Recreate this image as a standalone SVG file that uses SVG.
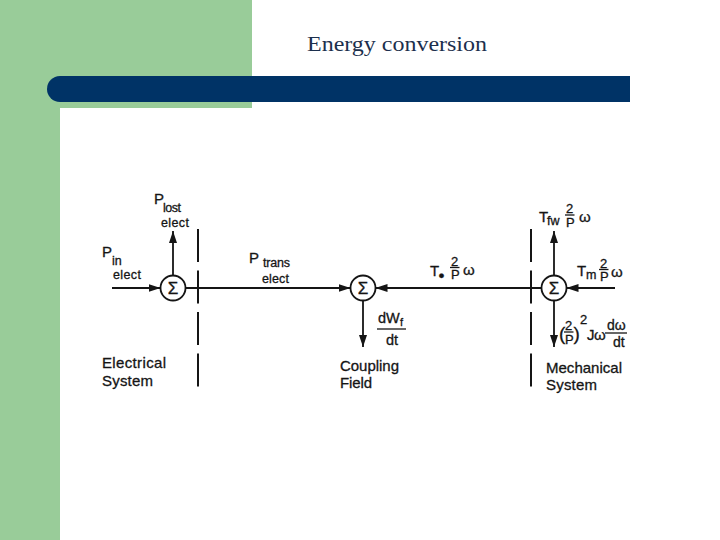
<svg xmlns="http://www.w3.org/2000/svg" width="720" height="540" viewBox="0 0 720 540">
<style>
  text { font-family: "Liberation Sans", Arial, sans-serif; fill: #151515; stroke: #151515; stroke-width: 0.3; }
  .title { font-family: "Liberation Serif", "Times New Roman", serif; font-size: 22px; fill: #1c2f4d; stroke: none; }
  .big { font-size: 15px; }
  .sub { font-size: 12.5px; }
  .frac { font-size: 13px; }
  .lbl { font-size: 15px; }
  .sig { font-size: 17px; text-anchor: middle; }
  .ln { stroke: #151515; stroke-width: 1.8; fill: none; }
  .bar { stroke: #151515; stroke-width: 1.3; }
  .sum { stroke: #151515; stroke-width: 1.8; fill: #ffffff; }
  .dash { stroke: #151515; stroke-width: 2; stroke-dasharray: 33 8.5; }
</style>
<defs>
  <marker id="ah" markerUnits="userSpaceOnUse" markerWidth="12" markerHeight="8" refX="12" refY="4" orient="auto">
    <path d="M0,0 L12,4 L0,8 z" fill="#151515"/>
  </marker>
</defs>
<rect width="720" height="540" fill="#ffffff"/>
<g id="background">
  <rect x="0" y="0" width="252" height="108" fill="#99cc99"/>
  <rect x="0" y="0" width="60" height="540" fill="#99cc99"/>
  <path d="M60,76 H630 V102 H60 A13,13 0 0 1 60,76 Z" fill="#003366"/>
  <text class="title" x="307" y="51" textLength="180" lengthAdjust="spacingAndGlyphs">Energy conversion</text>
</g>
<g id="boundaries">
  <line class="dash" x1="198" y1="229" x2="198" y2="388"/>
  <line class="dash" x1="531" y1="229" x2="531" y2="388"/>
</g>
<g id="connectors">
  <line class="ln" x1="112" y1="288" x2="160.5" y2="288" marker-end="url(#ah)"/>
  <line class="ln" x1="173" y1="275.5" x2="173" y2="231" marker-end="url(#ah)"/>
  <line class="ln" x1="185.5" y1="288" x2="350.5" y2="288" marker-end="url(#ah)"/>
  <line class="ln" x1="363" y1="300.5" x2="363" y2="347" marker-end="url(#ah)"/>
  <line class="ln" x1="541.5" y1="288" x2="375.5" y2="288" marker-end="url(#ah)"/>
  <line class="ln" x1="554" y1="275.5" x2="554" y2="231" marker-end="url(#ah)"/>
  <line class="ln" x1="615" y1="288" x2="566.5" y2="288" marker-end="url(#ah)"/>
  <line class="ln" x1="554" y1="300.5" x2="554" y2="347" marker-end="url(#ah)"/>
</g>
<g id="sum-electrical">
  <circle class="sum" cx="173" cy="288" r="12.5"/>
  <text class="sig" x="173" y="294">Σ</text>
</g>
<g id="sum-coupling">
  <circle class="sum" cx="363" cy="288" r="12.5"/>
  <text class="sig" x="363" y="294">Σ</text>
</g>
<g id="sum-mechanical">
  <circle class="sum" cx="554" cy="288" r="12.5"/>
  <text class="sig" x="554" y="294">Σ</text>
</g>
<g id="label-pin">
  <text class="big" x="102" y="257">P</text>
  <text class="sub" x="112" y="265">in</text>
  <text class="sub" x="113" y="279" textLength="28">elect</text>
</g>
<g id="label-plost">
  <text class="big" x="154" y="204">P</text>
  <text class="sub" x="163" y="212" textLength="18">lost</text>
  <text class="sub" x="161" y="227" textLength="28">elect</text>
</g>
<g id="label-ptrans">
  <text class="big" x="249" y="263">P</text>
  <text class="sub" x="263" y="267" textLength="27">trans</text>
  <text class="sub" x="262" y="283" textLength="27">elect</text>
</g>
<g id="label-dwf">
  <text style="font-size:14.5px" x="378" y="323">dW</text>
  <text style="font-size:11px" x="400" y="326">f</text>
  <line class="bar" x1="377" y1="329" x2="406" y2="329"/>
  <text style="font-size:14.5px" x="386" y="345">dt</text>
</g>
<g id="label-electrical-system">
  <text class="lbl" x="102" y="368" textLength="64">Electrical</text>
  <text class="lbl" x="102" y="386" textLength="51">System</text>
</g>
<g id="label-coupling-field">
  <text class="lbl" x="340" y="371" textLength="59">Coupling</text>
  <text class="lbl" x="340" y="388" textLength="32">Field</text>
</g>
<g id="label-mechanical-system">
  <text class="lbl" x="546" y="373" textLength="76">Mechanical</text>
  <text class="lbl" x="546" y="390" textLength="51">System</text>
</g>
<g id="label-te">
  <text class="big" x="430" y="276">T</text>
  <text style="font-size:17px" x="438.5" y="281">•</text>
  <text class="frac" x="451" y="265.5">2</text>
  <line class="bar" x1="450" y1="267.5" x2="459.5" y2="267.5"/>
  <text class="frac" x="451" y="279">P</text>
  <text class="big" x="463" y="275">ω</text>
</g>
<g id="label-tfw">
  <text class="big" x="539" y="222">T</text>
  <text class="sub" x="547" y="225">fw</text>
  <text class="frac" x="566" y="213">2</text>
  <line class="bar" x1="565" y1="215" x2="574.5" y2="215"/>
  <text class="frac" x="566" y="226.5">P</text>
  <text class="big" x="579" y="222">ω</text>
</g>
<g id="label-tm">
  <text class="big" x="577" y="276">T</text>
  <text class="sub" x="586" y="279">m</text>
  <text class="frac" x="600" y="267.5">2</text>
  <line class="bar" x1="599" y1="269.5" x2="608.5" y2="269.5"/>
  <text class="frac" x="600" y="281">P</text>
  <text class="big" x="611" y="277">ω</text>
</g>
<g id="label-inertia">
  <text style="font-size:19px" x="559" y="340">(</text>
  <text class="frac" x="565" y="330">2</text>
  <line class="bar" x1="564" y1="332" x2="573.5" y2="332"/>
  <text class="frac" x="565" y="344">P</text>
  <text style="font-size:19px" x="573.5" y="340">)</text>
  <text class="frac" x="580" y="324">2</text>
  <text class="big" x="587" y="340">J</text>
  <text class="big" x="594" y="340">ω</text>
  <line class="bar" x1="605" y1="333" x2="627" y2="333"/>
  <text style="font-size:14px" x="607" y="330">dω</text>
  <text style="font-size:14px" x="613" y="347">dt</text>
</g>
</svg>
